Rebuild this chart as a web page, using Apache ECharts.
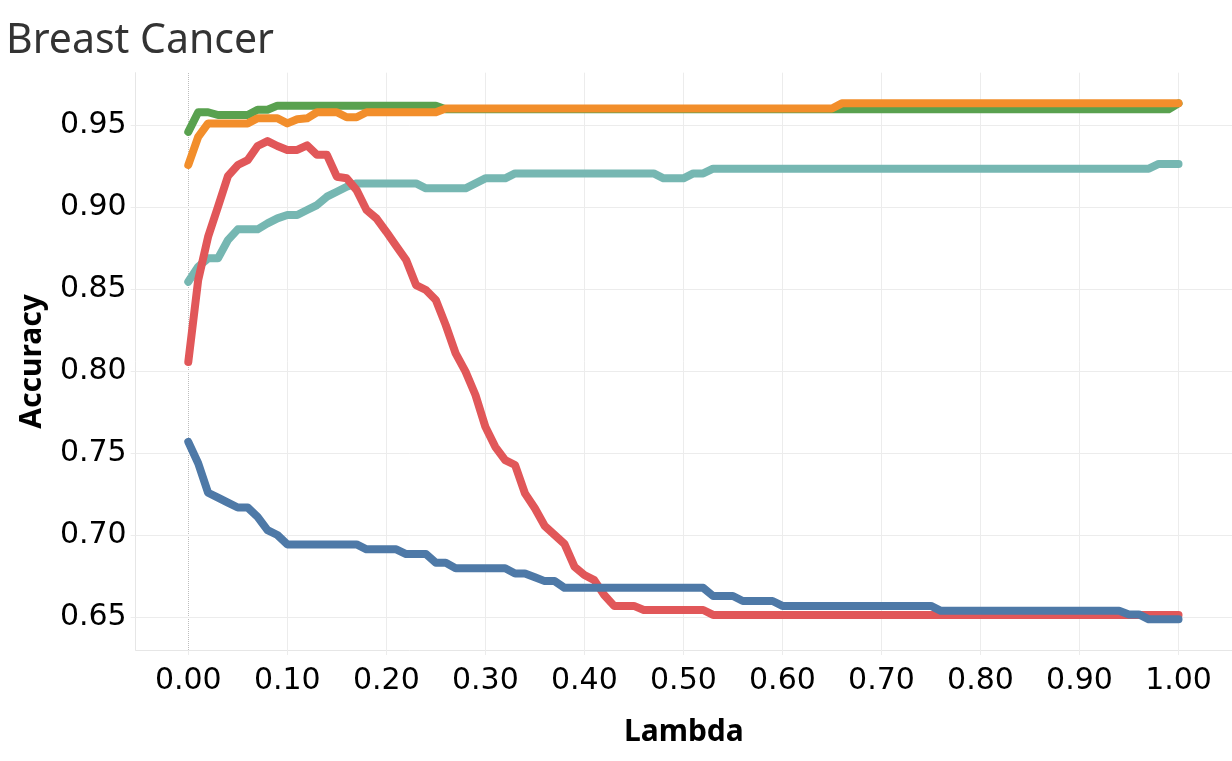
<!DOCTYPE html>
<html>
<head>
<meta charset="utf-8">
<script src="https://cdn.jsdelivr.net/npm/echarts@6.0.0/dist/echarts.min.js"></script>
<style>
html,body{margin:0;padding:0;background:#fff;}
#chart{width:1232px;height:761px;}
</style>
</head>
<body>
<div id="chart"></div>
<script>
var lambdas = [0,0.01,0.02,0.03,0.04,0.05,0.06,0.07,0.08,0.09,
0.10,0.11,0.12,0.13,0.14,0.15,0.16,0.17,0.18,0.19,
0.20,0.21,0.22,0.23,0.24,0.25,0.26,0.27,0.28,0.29,
0.30,0.31,0.32,0.33,0.34,0.35,0.36,0.37,0.38,0.39,
0.40,0.41,0.42,0.43,0.44,0.45,0.46,0.47,0.48,0.49,
0.50,0.51,0.52,0.53,0.54,0.55,0.56,0.57,0.58,0.59,
0.60,0.61,0.62,0.63,0.64,0.65,0.66,0.67,0.68,0.69,
0.70,0.71,0.72,0.73,0.74,0.75,0.76,0.77,0.78,0.79,
0.80,0.81,0.82,0.83,0.84,0.85,0.86,0.87,0.88,0.89,
0.90,0.91,0.92,0.93,0.94,0.95,0.96,0.97,0.98,0.99,1.00];

var greenVals = [0.946,0.958,0.958,0.9563,0.9563,0.9563,0.9563,0.9595,0.9595,
0.962,0.962,0.962,0.962,0.962,0.962,0.962,0.962,0.962,0.962,0.962,0.962,0.962,0.962,0.962,0.962,0.962,
0.9598,0.9598,0.9598,0.9598,0.9598,0.9598,0.9598,0.9598,0.9598,0.9598,0.9598,0.9598,0.9598,0.9598,
0.9598,0.9598,0.9598,0.9598,0.9598,0.9598,0.9598,0.9598,0.9598,0.9598,0.9598,0.9598,0.9598,0.9598,
0.9598,0.9598,0.9598,0.9598,0.9598,0.9598,0.9598,0.9598,0.9598,0.9598,0.9598,0.9598,0.9598,0.9598,
0.9598,0.9598,0.9598,0.9598,0.9598,0.9598,0.9598,0.9598,0.9598,0.9598,0.9598,0.9598,0.9598,0.9598,
0.9598,0.9598,0.9598,0.9598,0.9598,0.9598,0.9598,0.9598,0.9598,0.9598,0.9598,0.9598,0.9598,0.9598,
0.9598,0.9598,0.9598,0.9598,
0.9634,0.9634,0.9634];

var orangeVals = [0.9258,0.943,0.9512,0.9512,0.9512,0.9512,0.9512,0.9543,0.9543,0.9543,
0.9512,0.9537,0.9543,0.958,0.958,0.958,0.9549,0.9549,
0.958,0.958,0.958,0.958,0.958,0.958,0.958,0.958,
0.9603,0.9603,0.9603,0.9603,0.9603,0.9603,0.9603,0.9603,0.9603,0.9603,
0.9603,0.9603,0.9603,0.9603,0.9603,0.9603,0.9603,0.9603,0.9603,0.9603,
0.9603,0.9603,0.9603,0.9603,0.9603,0.9603,0.9603,0.9603,0.9603,0.9603,
0.9603,0.9603,0.9603,0.9603,0.9603,0.9603,0.9603,0.9603,0.9603,0.9603,
0.9634,0.9634,0.9634,0.9634,0.9634,0.9634,0.9634,0.9634,0.9634,0.9634,
0.9634,0.9634,0.9634,0.9634,0.9634,0.9634,0.9634,0.9634,0.9634,0.9634,
0.9634,0.9634,0.9634,0.9634,0.9634,0.9634,0.9634,0.9634,0.9634,0.9634,
0.9634,0.9634,0.9634,0.9634,0.9634];

var tealVals = [0.8546,0.8638,0.8689,0.8689,0.880,0.8866,0.8866,0.8866,0.8902,0.8933,
0.8953,0.8953,0.8984,0.9014,0.9065,0.9095,0.9126,
0.9146,0.9146,0.9146,0.9146,0.9146,0.9146,0.9146,
0.9116,0.9116,0.9116,0.9116,0.9116,
0.9146,0.9177,0.9177,0.9177,
0.9207,0.9207,0.9207,0.9207,0.9207,0.9207,0.9207,0.9207,0.9207,0.9207,0.9207,0.9207,0.9207,0.9207,0.9207,
0.9177,0.9177,0.9177,
0.9207,0.9207,
0.9236,0.9236,0.9236,0.9236,0.9236,0.9236,0.9236,0.9236,0.9236,0.9236,
0.9236,0.9236,0.9236,0.9236,0.9236,0.9236,0.9236,0.9236,0.9236,0.9236,
0.9236,0.9236,0.9236,0.9236,0.9236,0.9236,0.9236,0.9236,0.9236,0.9236,
0.9236,0.9236,0.9236,0.9236,0.9236,0.9236,0.9236,0.9236,0.9236,0.9236,
0.9236,0.9236,0.9236,0.9236,0.9236,
0.9265,0.9265,0.9265];

var redVals = [0.8057,0.8557,0.882,0.9004,0.919,0.9258,0.9288,0.9374,0.9404,0.9374,
0.935,0.935,0.9378,0.932,0.932,0.9187,0.9177,0.9105,0.8984,0.8933,
0.8851,0.8764,0.8679,0.8526,0.8496,0.8435,0.8282,0.811,0.7998,0.7856,
0.7662,0.754,0.7459,0.7429,0.7256,0.7165,0.7057,0.7002,0.6947,0.6809,
0.6758,0.6727,0.6636,0.657,0.657,0.657,
0.6545,0.6545,0.6545,0.6545,0.6545,0.6545,0.6545,
0.6515,0.6515,0.6515,0.6515,0.6515,0.6515,0.6515,0.6515,0.6515,0.6515,
0.6515,0.6515,0.6515,0.6515,0.6515,0.6515,0.6515,0.6515,0.6515,0.6515,
0.6515,0.6515,0.6515,0.6515,0.6515,0.6515,0.6515,0.6515,0.6515,0.6515,
0.6515,0.6515,0.6515,0.6515,0.6515,0.6515,0.6515,0.6515,0.6515,0.6515,
0.6515,0.6515,0.6515,0.6515,0.6515,0.6515,0.6515,0.6515];

var blueVals = [0.757,0.744,0.726,0.723,0.720,0.717,0.717,0.7113,0.7032,0.7002,
0.6945,0.6945,0.6945,0.6945,0.6945,0.6945,0.6945,0.6945,
0.6915,0.6915,0.6915,0.6915,
0.6886,0.6886,0.6886,
0.6833,0.6833,
0.680,0.680,0.680,0.680,0.680,0.680,
0.6768,0.6768,0.6745,0.6721,0.6721,
0.668,0.668,0.668,0.668,0.668,0.668,0.668,0.668,0.668,0.668,0.668,0.668,0.668,0.668,0.668,
0.663,0.663,0.663,
0.660,0.660,0.660,0.660,
0.657,0.657,0.657,0.657,0.657,0.657,0.657,0.657,0.657,0.657,0.657,0.657,0.657,0.657,0.657,0.657,
0.654,0.654,0.654,0.654,0.654,0.654,0.654,0.654,0.654,0.654,
0.654,0.654,0.654,0.654,0.654,0.654,0.654,0.654,0.654,
0.6518,0.6518,
0.6488,0.6488,0.6488,0.6488];

var xTicks = [0,0.1,0.2,0.3,0.4,0.5,0.6,0.7,0.8,0.9,1.0];
var yTicks = [0.65,0.70,0.75,0.80,0.85,0.90,0.95];

function pairs(vals){ return lambdas.map(function(l,i){ return [l, vals[i]]; }); }

var gridColor = '#ececec';
var gridLines = [];
xTicks.forEach(function(v){
  if (v === 0) {
    gridLines.push({xAxis: v, lineStyle:{color:'#bdbdbd', type:'dotted', width:1}});
  } else {
    gridLines.push({xAxis: v, lineStyle:{color:gridColor, type:'solid', width:1}});
  }
});
yTicks.forEach(function(v){
  gridLines.push({yAxis: v, lineStyle:{color:gridColor, type:'solid', width:1}});
});

function lineSeries(name, vals, color){
  return {
    name: name, type:'line', data: pairs(vals), showSymbol:false, symbol:'none',
    lineStyle:{color:color, width:8, cap:'round', join:'round'},
    itemStyle:{color:color}, z:3, silent:true
  };
}

var chart = echarts.init(document.getElementById('chart'), null, {renderer:'canvas'});
chart.setOption({
  animation:false,
  backgroundColor:'#ffffff',
  title:{text:'Breast Cancer', left:1, top:16,
    textStyle:{fontFamily:'Noto Sans', fontSize:41, fontWeight:'normal', color:'#333333'}},
  grid:{left:135.7, top:72.7, right:0, bottom:111, containLabel:false},
  xAxis:{type:'value', min:-0.0531, max:1.054,
    name:'Lambda', nameLocation:'middle', nameGap:67,
    nameTextStyle:{fontFamily:'Noto Sans', fontSize:30, fontWeight:'bold', color:'#000'},
    axisLine:{show:true, onZero:false, lineStyle:{color:'#e6e6e6', width:1}},
    axisTick:{show:true, length:5, customValues:xTicks, lineStyle:{color:gridColor}},
    axisLabel:{customValues:xTicks, margin:16, fontFamily:'DejaVu Sans', fontSize:30, color:'#000',
      formatter:function(v){ return v.toFixed(2); }},
    splitLine:{show:false}
  },
  yAxis:{type:'value', min:0.6301, max:0.9821,
    name:'Accuracy', nameLocation:'middle', nameGap:88,
    nameTextStyle:{fontFamily:'Noto Sans', fontSize:30, fontWeight:'bold', color:'#000'},
    axisLine:{show:true, onZero:false, lineStyle:{color:'#e6e6e6', width:1}},
    axisTick:{show:true, length:5, customValues:yTicks, lineStyle:{color:gridColor}},
    axisLabel:{customValues:yTicks, margin:9, fontFamily:'DejaVu Sans', fontSize:30, color:'#000',
      formatter:function(v){ return v.toFixed(2); }},
    splitLine:{show:false}
  },
  series:[
    {name:'grid', type:'line', data:[], z:1, silent:true,
      markLine:{silent:true, symbol:['none','none'], z:1, animation:false,
        label:{show:false}, emphasis:{disabled:true}, data:gridLines}},
    lineSeries('green', greenVals, '#59a14f'),
    lineSeries('orange', orangeVals, '#f28e2b'),
    lineSeries('teal', tealVals, '#76b7b2'),
    lineSeries('red', redVals, '#e15759'),
    lineSeries('blue', blueVals, '#4e79a7')
  ]
});
</script>
</body>
</html>
